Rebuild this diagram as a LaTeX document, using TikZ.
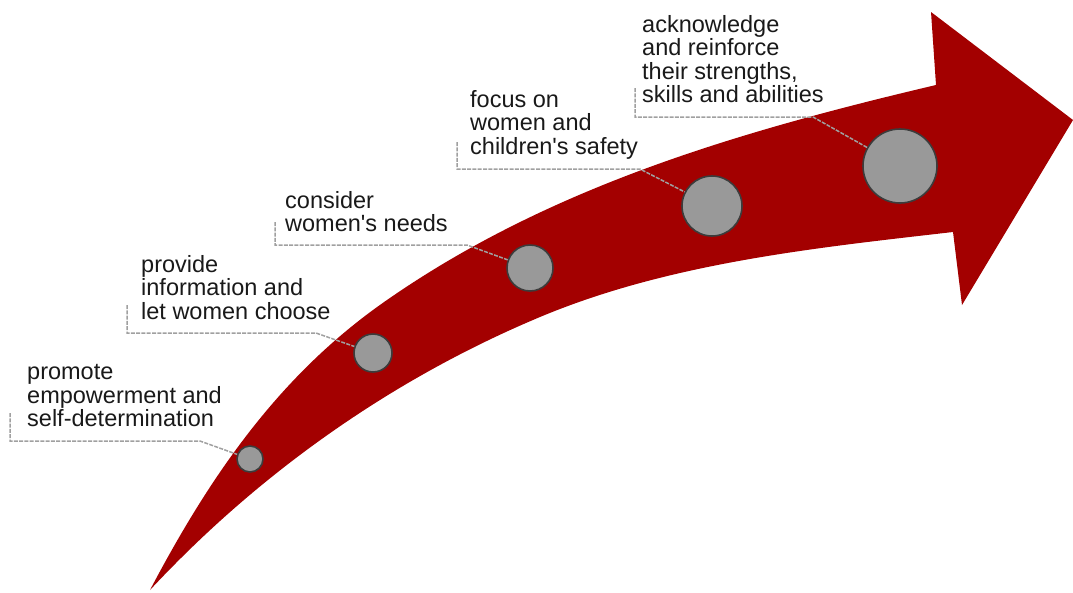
\documentclass[tikz,border=0pt]{standalone}
\usepackage{fontspec}
\setmainfont{Liberation Sans}[Ligatures=TeXOff]
\definecolor{arrowred}{RGB}{163,0,0}
\definecolor{dotgray}{RGB}{153,153,153}
\definecolor{rimgray}{RGB}{60,60,60}
\definecolor{leadgray}{RGB}{160,160,160}
\definecolor{txt}{RGB}{25,25,25}
\begin{document}
\begin{tikzpicture}[x=1pt,y=-1pt,
  dot/.style={circle,fill=dotgray,draw=rimgray,line width=1.6pt,inner sep=0pt,minimum size=#1},
  lab/.style={anchor=north west,inner sep=0pt,align=left,text=txt,font=\fontsize{23.5}{23.5}\selectfont},
  leader/.style={draw=leadgray,line width=1.5pt,dash pattern=on 4pt off 1.3pt}]
\useasboundingbox (0,0) rectangle (1073,592);
% arrow
\fill[arrowred] (150,590) .. controls (210.6,475) and (280,374) .. (387,300)
  .. controls (551,186) and (741,131) .. (936,85)
  -- (931,12) -- (1073,120) -- (962,305) -- (953,232)
  .. controls (814,248) and (669,263) .. (540,317)
  .. controls (392,379) and (259,473) .. (150,590) -- cycle;
% circles
\node[dot=26pt] (c1) at (250,459) {};
\node[dot=38pt] (c2) at (373,353) {};
\node[dot=46pt] (c3) at (530,268) {};
\node[dot=60pt] (c4) at (712,206) {};
\node[dot=74pt] (c5) at (900,166) {};
% labels
\node[lab] (t1) at (27,364.5) {promote\\empowerment and\\self-determination};
\node[lab] (t2) at (141,255) {provide\\information and\\let women choose};
\node[lab] (t3) at (285,191) {consider\\women's needs};
\node[lab] (t4) at (470,90) {focus on\\women and\\children's safety};
\node[lab] (t5) at (642,15) {acknowledge\\and reinforce\\their strengths,\\skills and abilities};
% leader coordinates
\coordinate (a1) at (10,413); \coordinate (b1) at (10,441); \coordinate (d1) at (200,441);
\coordinate (a2) at (127,305); \coordinate (b2) at (127,333); \coordinate (d2) at (316,333);
\coordinate (a3) at (275,222); \coordinate (b3) at (275,245); \coordinate (d3) at (467,245);
\coordinate (a4) at (457,142); \coordinate (b4) at (457,169); \coordinate (d4) at (640,169);
\coordinate (a5) at (635,88);  \coordinate (b5) at (635,117); \coordinate (d5) at (813,117);
\draw[leader] (a1) -- (b1) -- (d1) -- (c1);
\draw[leader] (a2) -- (b2) -- (d2) -- (c2);
\draw[leader] (a3) -- (b3) -- (d3) -- (c3);
\draw[leader] (a4) -- (b4) -- (d4) -- (c4);
\draw[leader] (a5) -- (b5) -- (d5) -- (c5);
\end{tikzpicture}
\end{document}
